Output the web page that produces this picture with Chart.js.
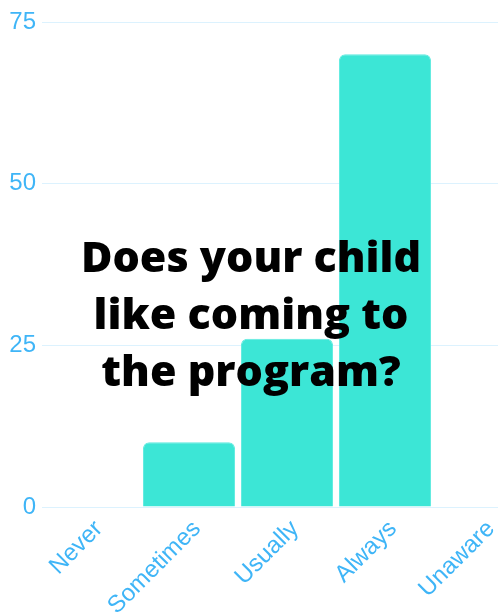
<!DOCTYPE html>
<html>
<head>
<meta charset="utf-8">
<script src="https://cdn.jsdelivr.net/npm/chart.js@4"></script>
<style>
  html, body { margin: 0; padding: 0; background: #ffffff; overflow: hidden; }
  body { width: 498px; height: 613px; position: relative; }
  #wrap { position: absolute; left: 0; top: 0; width: 532px; height: 613px; }
  #title {
    position: absolute; left: 0; width: 502px; top: 227px;
    text-align: center; font-family: "Open Sans", sans-serif; font-weight: 800;
    font-size: 43px; line-height: 57px; color: #000; pointer-events: none;
  }
</style>
</head>
<body>
<div id="wrap"><canvas id="c"></canvas></div>
<div id="title">Does your child<br>like coming to<br>the program?</div>
<script>
const categories = ["Never", "Sometimes", "Usually", "Always", "Unaware"];
const responses = [0, 10, 26, 70, 0];
const yTicks = [0, 25, 50, 75];

const tickColor = "#3fb5f7";
const gridColor = "rgba(63,181,247,0.18)";

new Chart(document.getElementById("c"), {
  type: "bar",
  data: {
    labels: categories,
    datasets: [{
      data: responses,
      backgroundColor: "#3ce6d6",
      borderColor: "#5eeadf",
      borderWidth: 1,
      borderRadius: 6,
      borderSkipped: "bottom",
      barPercentage: 0.94,
      categoryPercentage: 1
    }]
  },
  options: {
    responsive: true,
    maintainAspectRatio: false,
    animation: false,
    layout: { padding: { top: 22, left: 10, right: 0, bottom: 0 } },
    plugins: { legend: { display: false }, tooltip: { enabled: false }, title: { display: false } },
    scales: {
      x: {
        grid: { display: false },
        border: { display: false },
        afterFit: (axis) => { axis.height = 106; },
        ticks: {
          color: tickColor, font: { size: 24, family: "Liberation Sans, Arial, sans-serif" },
          minRotation: 45, maxRotation: 45, padding: 0, labelOffset: 8
        }
      },
      y: {
        min: 0, max: 75,
        afterBuildTicks: (axis) => { axis.ticks = yTicks.map(v => ({ value: v })); },
        afterFit: (axis) => { axis.width = 32; },
        grid: { color: gridColor, drawTicks: false, lineWidth: 1 },
        border: { display: false },
        ticks: { color: tickColor, font: { size: 24, family: "Liberation Sans, Arial, sans-serif" }, padding: 6 }
      }
    }
  }
});
</script>
</body>
</html>
